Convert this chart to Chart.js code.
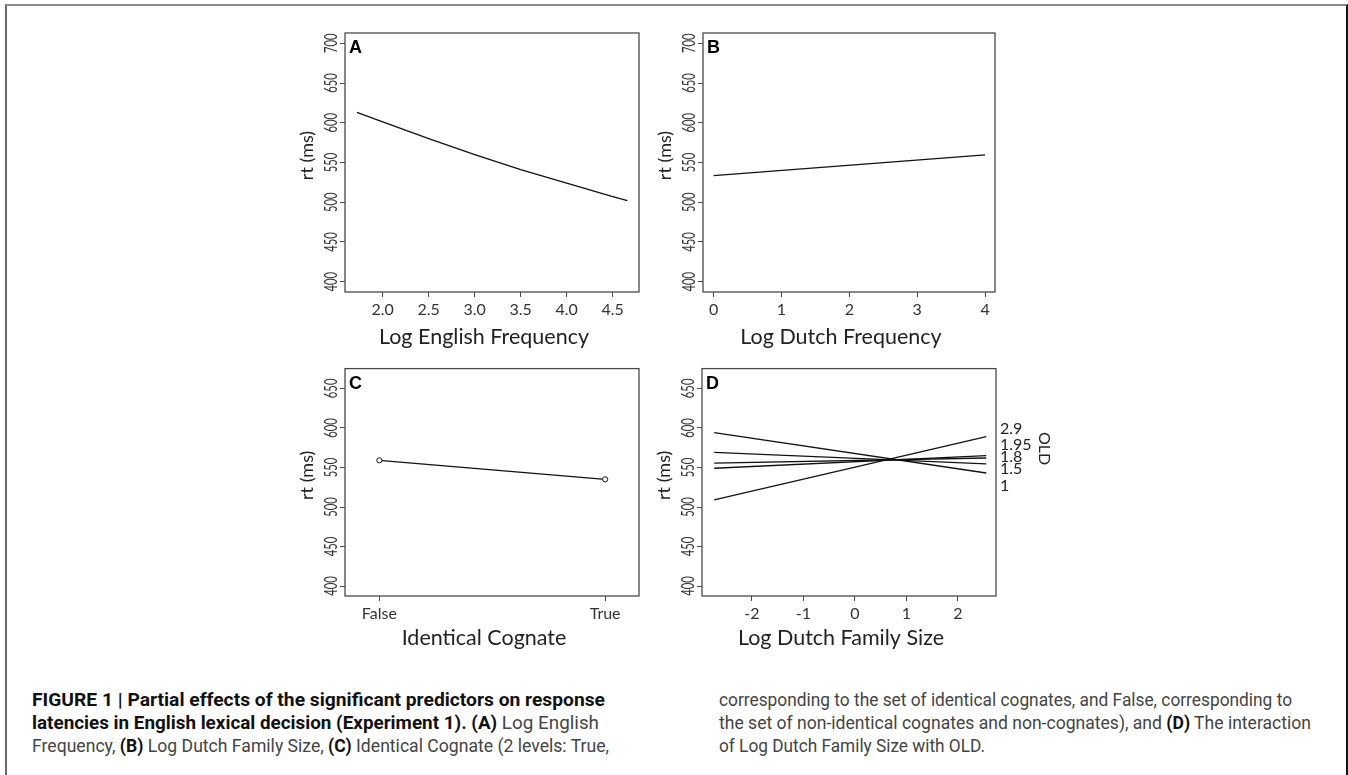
<!DOCTYPE html>
<html>
<head>
<meta charset="utf-8">
<script src="https://cdn.jsdelivr.net/npm/chart.js@4.4.1/dist/chart.umd.min.js"></script>
<style>
  body { margin: 0; background: #fff; }
  #page { position: relative; width: 1348px; height: 775px; overflow: hidden; background: #fff; }
  #border { position: absolute; left: 5px; top: 4px; width: 1339px; height: 800px;
            border-top: 2px solid #8a8a8a; border-left: 2px solid #6a6a6a; border-right: 2px solid #111; }
  canvas { position: absolute; }
  .cap { position: absolute; white-space: nowrap; font-family: Roboto, "Liberation Sans", sans-serif;
         font-size: 18px; line-height: 23px; color: #444; transform-origin: 0 0; }
  .cap b { color: #111; font-weight: 700; }
</style>
</head>
<body>
<div id="page">
  <div id="border"></div>
  <canvas id="panelA" width="380" height="340" style="left:280px;top:20px"></canvas>
  <canvas id="panelB" width="382" height="340" style="left:638px;top:20px"></canvas>
  <canvas id="panelC" width="380" height="300" style="left:280px;top:356px"></canvas>
  <canvas id="panelD" width="433" height="300" style="left:637px;top:356px"></canvas>

  <div class="cap" data-fit="573" style="left:32px;top:688px"><b>FIGURE 1 | Partial effects of the significant predictors on response</b></div>
  <div class="cap" data-fit="567" style="left:32px;top:711px"><b>latencies in English lexical decision (Experiment 1). (A)</b> Log English</div>
  <div class="cap" data-fit="577" style="left:32px;top:734px">Frequency, <b>(B)</b> Log Dutch Family Size, <b>(C)</b> Identical Cognate (2 levels: True,</div>

  <div class="cap" data-fit="573" style="left:719px;top:688px">corresponding to the set of identical cognates, and False, corresponding to</div>
  <div class="cap" data-fit="592" style="left:719px;top:711px">the set of non-identical cognates and non-cognates), and <b>(D)</b> The interaction</div>
  <div class="cap" data-fit="266" style="left:719px;top:734px">of Log Dutch Family Size with OLD.</div>
</div>
<script>
// y axis ticks
const yTicksTop = [400, 450, 500, 550, 600, 650, 700];
const yTicksBottom = [400, 450, 500, 550, 600, 650];

// A: Log English Frequency
const engFreq = [1.72, 2.0, 2.5, 3.0, 3.5, 4.0, 4.5, 4.66];
const rtEngFreq = [613, 601, 580, 560, 541, 524, 507, 502];
const engFreqTicks = [2.0, 2.5, 3.0, 3.5, 4.0, 4.5];

// B: Log Dutch Frequency
const dutchFreq = [0, 4];
const rtDutchFreq = [533.5, 559.5];
const dutchFreqTicks = [0, 1, 2, 3, 4];

// C: Identical Cognate
const cognateLevels = ['False', 'True'];
const rtCognate = [559, 535];

// D: Log Dutch Family Size x OLD
const familySize = [-2.73, 2.55];
const familySizeTicks = [-2, -1, 0, 1, 2];
const oldLevels = ['2.9', '1.95', '1.8', '1.5', '1'];
const rtByOld = [
  [509, 589],
  [549, 565],
  [555.5, 562],
  [569, 554.5],
  [594, 543],
];

// where the OLD key labels sit (in rt units), they fan out a bit past the line ends
const oldLabelAt = [599, 578, 563, 548, 527];
const oldTitleAt = 574;

const INK = '#4a4a4a';

// squeeze each caption line to the width of the printed one
document.querySelectorAll('.cap').forEach(el => {
  const w = el.getBoundingClientRect().width;
  el.style.transform = 'scaleX(' + (Number(el.dataset.fit) / w) + ')';
});

const framePlugin = {
  id: 'frame',
  afterDraw(chart, args, opts) {
    const { ctx, chartArea: a, scales } = chart;
    ctx.save();
    ctx.strokeStyle = INK;
    ctx.lineWidth = 1.3;
    ctx.strokeRect(a.left, a.top, a.right - a.left, a.bottom - a.top);

    ctx.fillStyle = '#000';
    ctx.font = 'bold 18px "Liberation Sans", Arial, sans-serif';
    ctx.textBaseline = 'alphabetic';
    ctx.fillText(opts.letter, a.left + 4, a.top + 20);

    // axis titles, centred a little left of / above the box like the original
    const midX = (a.left + a.right) / 2;
    const midY = (a.top + a.bottom) / 2;
    ctx.fillStyle = '#222';
    ctx.textAlign = 'center';
    ctx.textBaseline = 'middle';
    ctx.font = '21.5px Lato';
    ctx.fillText(opts.xTitle, midX - 8, a.bottom + opts.titleGap);
    ctx.save();
    ctx.translate(a.left - 38, midY - 7);
    ctx.rotate(-Math.PI / 2);
    ctx.font = '18px Lato';
    ctx.fillText('rt (ms)', 0, 0);
    ctx.restore();

    // rotated y tick labels (squeezed like the original)
    const y = scales.y;
    ctx.font = '17px Lato';
    ctx.fillStyle = '#333';
    y.ticks.forEach(t => {
      ctx.save();
      ctx.translate(a.left - 13, y.getPixelForValue(t.value));
      ctx.rotate(-Math.PI / 2);
      ctx.scale(0.66, 1);
      ctx.fillText(String(t.value), 0, 0);
      ctx.restore();
    });
    ctx.restore();
  }
};

const oldKeyPlugin = {
  id: 'oldKey',
  afterDraw(chart) {
    const { ctx, chartArea: a, scales: { y } } = chart;
    ctx.save();
    ctx.font = '16px Lato';
    ctx.fillStyle = '#222';
    ctx.textAlign = 'left';
    ctx.textBaseline = 'middle';
    oldLevels.forEach((lv, i) => {
      ctx.fillText(lv, a.right + 4, y.getPixelForValue(oldLabelAt[i]));
    });
    ctx.translate(a.right + 48, y.getPixelForValue(oldTitleAt));
    ctx.rotate(Math.PI / 2);
    ctx.textAlign = 'center';
    ctx.fillText('OLD', 0, 0);
    ctx.restore();
  }
};

function makePanel(id, box, frame, opts) {
  const xScaleHeight = box.y + box.h - frame.b;
  return new Chart(document.getElementById(id), {
    type: 'scatter',
    data: { datasets: opts.datasets },
    options: {
      responsive: false,
      animation: false,
      layout: { padding: { top: frame.t - box.y, right: box.x + box.w - frame.r, left: 0, bottom: 0 } },
      plugins: {
        legend: { display: false },
        tooltip: { enabled: false },
        frame: { letter: opts.letter, xTitle: opts.xTitle, titleGap: opts.titleGap },
      },
      scales: {
        x: {
          type: 'linear',
          min: opts.xMin,
          max: opts.xMax,
          afterBuildTicks: (scale) => { scale.ticks = opts.xTicks.map(v => ({ value: v })); },
          afterFit: (scale) => { scale.height = xScaleHeight; },
          grid: { drawOnChartArea: false, drawTicks: true, tickLength: 5, color: INK },
          border: { display: false },
          ticks: {
            autoSkip: false, maxRotation: 0, padding: 3,
            color: '#333', font: { family: 'Lato', size: 16 },
            callback: opts.xLabel,
          },
        },
        y: {
          min: opts.yMin,
          max: opts.yMax,
          afterBuildTicks: (scale) => { scale.ticks = opts.yTicks.map(v => ({ value: v })); },
          afterFit: (scale) => { scale.width = frame.l - box.x; },
          grid: { drawOnChartArea: false, drawTicks: true, tickLength: 5, color: INK },
          border: { display: false },
          ticks: { autoSkip: false, color: 'rgba(0,0,0,0)', font: { family: 'Lato', size: 16 } },
        },
      },
    },
    plugins: [framePlugin].concat(opts.extraPlugins || []),
  });
}

const lineStyle = { showLine: true, borderColor: '#111', borderWidth: 1.3, pointRadius: 0, fill: false, tension: 0 };

makePanel('panelA', { x: 280, y: 20, w: 380, h: 340 }, { l: 345, t: 33, r: 639, b: 292 }, {
  letter: 'A',
  datasets: [Object.assign({ data: engFreq.map((x, i) => ({ x, y: rtEngFreq[i] })) }, lineStyle)],
  xMin: 1.59, xMax: 4.786, xTicks: engFreqTicks, xLabel: v => Number(v).toFixed(1),
  xTitle: 'Log English Frequency', titleGap: 45,
  yMin: 387, yMax: 713, yTicks: yTicksTop,
});

makePanel('panelB', { x: 638, y: 20, w: 382, h: 340 }, { l: 703, t: 33, r: 995, b: 292 }, {
  letter: 'B',
  datasets: [Object.assign({ data: dutchFreq.map((x, i) => ({ x, y: rtDutchFreq[i] })) }, lineStyle)],
  xMin: -0.156, xMax: 4.147, xTicks: dutchFreqTicks, xLabel: v => String(v),
  xTitle: 'Log Dutch Frequency', titleGap: 45,
  yMin: 387, yMax: 713, yTicks: yTicksTop,
});

makePanel('panelC', { x: 280, y: 356, w: 380, h: 300 }, { l: 345, t: 367, r: 639, b: 596 }, {
  letter: 'C',
  datasets: [Object.assign({ data: cognateLevels.map((c, i) => ({ x: i, y: rtCognate[i] })) }, lineStyle, {
    pointRadius: 2.6, pointBorderWidth: 1, pointBorderColor: '#111', pointBackgroundColor: '#fff',
  })],
  xMin: -0.152, xMax: 1.15, xTicks: [0, 1], xLabel: v => cognateLevels[v],
  xTitle: 'Identical Cognate', titleGap: 42,
  yMin: 387.5, yMax: 675, yTicks: yTicksBottom,
});

makePanel('panelD', { x: 637, y: 356, w: 433, h: 300 }, { l: 702, t: 367, r: 996, b: 596 }, {
  letter: 'D',
  datasets: rtByOld.map((vals, k) => Object.assign({
    label: 'OLD ' + oldLevels[k],
    data: familySize.map((x, i) => ({ x, y: vals[i] })),
  }, lineStyle)),
  xMin: -2.967, xMax: 2.739, xTicks: familySizeTicks, xLabel: v => String(v),
  xTitle: 'Log Dutch Family Size', titleGap: 42,
  yMin: 387.5, yMax: 675, yTicks: yTicksBottom,
  extraPlugins: [oldKeyPlugin],
});
</script>
</body>
</html>
